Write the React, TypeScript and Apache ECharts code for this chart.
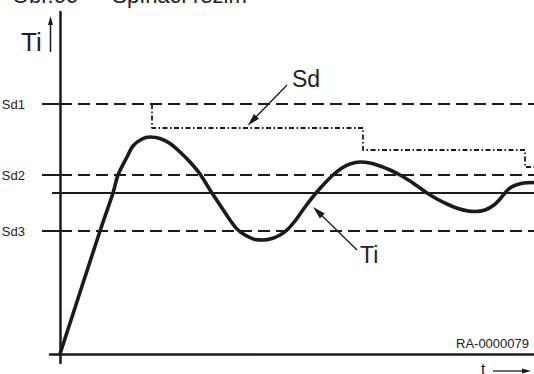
import React, { useEffect, useRef } from "react";
import * as echarts from "echarts";

// Threshold levels (Sd1, Sd2, Sd3) and the reference line
const thresholdNames = ["Sd1", "Sd2", "Sd3"];
const thresholdValues = [250, 179, 123];
const setpointValue = 161;

// Stepped switching setpoint Sd (dash-dot)
const sdStepTime = [92, 92, 303, 303, 465, 465, 474];
const sdStepValue = [250, 226, 226, 204, 204, 187, 187];

// Temperature Ti response curve
const tiTime = [
  0, 40, 53, 58, 67, 73, 82, 90, 100, 110, 120, 130, 140, 150, 160, 170, 177, 185,
  195, 203, 212, 220, 227, 235, 245, 256, 265, 273, 282, 290, 300, 310, 320, 330,
  340, 350, 360, 367, 377, 387, 398, 408, 415, 425, 434, 440, 445, 450, 456, 464, 474,
];
const tiValue = [
  0, 123, 161, 179, 197, 208, 215, 217, 215.5, 210.5, 202, 192, 180, 164, 149, 134,
  125, 119, 114.5, 114, 115.5, 119, 124, 133, 147, 161, 171, 179, 186, 190, 192, 191,
  188, 184, 179, 173, 166, 161, 155, 150, 145.5, 143, 142.5, 144, 149, 155, 161, 166,
  169, 171, 171.5,
];

const xMin = -10;
const xMax = 474;
const yMin = -9;
const yMax = 342;

const INK = "#1b1b1b";
const FONT = "'Liberation Sans', Arial, Helvetica, sans-serif";

export default function App() {
  const ref = useRef<HTMLDivElement>(null);

  useEffect(() => {
    if (!ref.current) return;
    const chart = echarts.init(ref.current, null, { renderer: "svg" });

    const thresholdSeries = thresholdValues.map((v, i) => ({
      name: thresholdNames[i],
      type: "line",
      data: [
        [0, v],
        [xMax, v],
      ],
      symbol: "none",
      silent: true,
      lineStyle: { color: INK, width: 2, type: [12, 6] },
      z: 2,
    }));

    const option: any = {
      animation: false,
      backgroundColor: "#ffffff",
      grid: {
        left: 50,
        top: 12,
        right: 0,
        bottom: 11,
        containLabel: false,
        outerBoundsMode: "none",
      },
      xAxis: {
        type: "value",
        min: xMin,
        max: xMax,
        axisLine: { show: true, onZero: true, lineStyle: { color: INK, width: 2.5 } },
        axisTick: { show: false },
        axisLabel: { show: false },
        splitLine: { show: false },
      },
      yAxis: {
        type: "value",
        min: yMin,
        max: yMax,
        axisLine: { show: true, onZero: true, lineStyle: { color: INK, width: 2.5 } },
        axisTick: {
          show: true,
          length: 18,
          customValues: thresholdValues,
          lineStyle: { color: INK, width: 2 },
        },
        axisLabel: {
          show: true,
          margin: 25,
          customValues: thresholdValues,
          formatter: (v: number) => {
            const i = thresholdValues.indexOf(v);
            return i >= 0 ? thresholdNames[i] : "";
          },
          color: "#222",
          fontFamily: FONT,
          fontSize: 13,
        },
        splitLine: { show: false },
      },
      series: [
        ...thresholdSeries,
        {
          name: "setpoint",
          type: "line",
          data: [
            [-8, setpointValue],
            [xMax, setpointValue],
          ],
          symbol: "none",
          silent: true,
          lineStyle: { color: INK, width: 2 },
          z: 2,
        },
        {
          name: "Sd",
          type: "line",
          data: sdStepTime.map((t, i) => [t, sdStepValue[i]]),
          symbol: "none",
          silent: true,
          lineStyle: { color: INK, width: 1.8, type: [5, 2.5, 1.5, 2.5] },
          z: 3,
          markLine: {
            silent: true,
            animation: false,
            label: { show: false },
            lineStyle: { color: INK, width: 1.3, type: "solid" },
            data: [
              [
                { coord: [227, 269], symbol: "none" },
                { coord: [192, 233], symbol: "triangle", symbolSize: [7, 13] },
              ],
            ],
          },
        },
        {
          name: "Ti",
          type: "line",
          data: tiTime.map((t, i) => [t, tiValue[i]]),
          symbol: "none",
          smooth: 0.3,
          silent: true,
          lineStyle: { color: INK, width: 3.6, join: "round", cap: "round" },
          z: 4,
          markLine: {
            silent: true,
            animation: false,
            label: { show: false },
            lineStyle: { color: INK, width: 1.3, type: "solid" },
            data: [
              [
                { coord: [297, 104], symbol: "none" },
                { coord: [257.7, 142.5], symbol: "triangle", symbolSize: [7, 13] },
              ],
            ],
          },
        },
      ],
      graphic: [
        {
          type: "text",
          x: 12,
          y: -5,
          style: {
            text: "Obr.66 — Spínací režim",
            fill: "#222",
            font: `22px ${FONT}`,
            verticalAlign: "middle",
          },
        },
        {
          type: "text",
          x: 21,
          y: 42,
          style: { text: "Ti", fill: "#222", font: `26px ${FONT}`, verticalAlign: "middle" },
        },
        {
          type: "line",
          shape: { x1: 50.5, y1: 52, x2: 50.5, y2: 23 },
          style: { stroke: INK, lineWidth: 1.5 },
        },
        {
          type: "polygon",
          shape: { points: [[50.5, 16], [48, 25], [53, 25]] },
          style: { fill: INK },
        },
        {
          type: "text",
          x: 292,
          y: 79,
          style: { text: "Sd", fill: "#222", font: `23px ${FONT}`, verticalAlign: "middle" },
        },
        {
          type: "text",
          x: 360,
          y: 255,
          style: { text: "Ti", fill: "#222", font: `23px ${FONT}`, verticalAlign: "middle" },
        },
        {
          type: "text",
          x: 529,
          y: 343,
          style: {
            text: "RA-0000079",
            fill: "#222",
            font: `13px ${FONT}`,
            align: "right",
            verticalAlign: "middle",
          },
        },
        {
          type: "text",
          x: 481,
          y: 369,
          style: { text: "t", fill: "#222", font: `16px ${FONT}`, verticalAlign: "middle" },
        },
        {
          type: "line",
          shape: { x1: 493, y1: 371, x2: 524, y2: 371 },
          style: { stroke: INK, lineWidth: 1.3 },
        },
        {
          type: "polygon",
          shape: { points: [[531, 371], [522, 368.5], [522, 373.5]] },
          style: { fill: INK },
        },
      ],
    };

    chart.setOption(option);
    return () => chart.dispose();
  }, []);

  return (
    <div
      ref={ref}
      style={{ position: "absolute", left: 0, top: 0, width: 534, height: 374 }}
    />
  );
}
